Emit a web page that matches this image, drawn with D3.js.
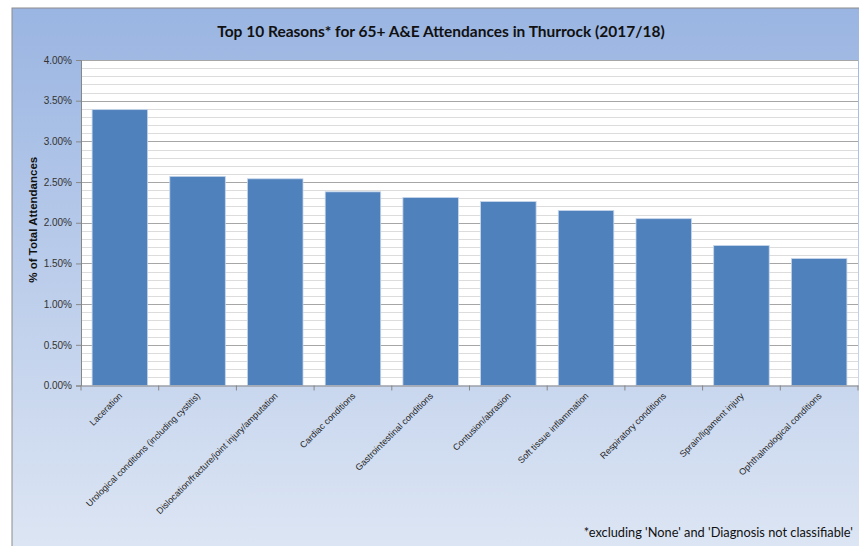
<!DOCTYPE html>
<html><head><meta charset="utf-8">
<script src="https://cdn.jsdelivr.net/npm/d3@7"></script>
<style>body{margin:0;background:#fff}svg{display:block}</style>
</head><body>
<svg id="c" width="859" height="546"></svg>
<script>
const categories = ["Laceration","Urological conditions (including cystitis)","Dislocation/fracture/joint injury/amputation","Cardiac conditions","Gastrointestinal conditions","Contusion/abrasion","Soft tissue inflammation","Respiratory conditions","Sprain/ligament injury","Ophthalmological conditions"];
const values = [3.39, 2.57, 2.54, 2.38, 2.31, 2.26, 2.15, 2.05, 1.72, 1.56];
const yTicks = [0,0.5,1,1.5,2,2.5,3,3.5,4];
const minorTicks = d3.range(0, 41).map(i => i/10);
const title = "Top 10 Reasons* for 65+ A&E Attendances in Thurrock (2017/18)";
const yTitle = "% of Total Attendances";
const footnote = "*excluding 'None' and 'Diagnosis not classifiable'";

const svg = d3.select("#c");
const defs = svg.append("defs");
const g = defs.append("linearGradient").attr("id","bg").attr("x1",0).attr("y1",0).attr("x2",0).attr("y2",1);
g.append("stop").attr("offset","0%").attr("stop-color","#9ab5e2");
g.append("stop").attr("offset","100%").attr("stop-color","#dfe7f4");

svg.append("rect").attr("x",12).attr("y",8).attr("width",859).attr("height",560)
  .attr("fill","url(#bg)").attr("stroke","#8c8c8c").attr("stroke-width",1);

const m = {left:81, right:858, top:60, bottom:385.5};
const x = d3.scaleBand().domain(categories).range([m.left, m.right]).paddingInner(0.2857).paddingOuter(0.1429);
const y = d3.scaleLinear().domain([0,4]).range([m.bottom, m.top]);

svg.append("rect").attr("x",m.left).attr("y",m.top).attr("width",m.right-m.left).attr("height",m.bottom-m.top).attr("fill","#fff");

svg.append("g").selectAll("line").data(minorTicks.filter(d => Math.round(d*10)%5 !== 0)).join("line")
  .attr("x1",m.left).attr("x2",m.right).attr("y1",d=>Math.round(y(d))+0.5).attr("y2",d=>Math.round(y(d))+0.5)
  .attr("stroke","#dcdcdc").attr("stroke-width",1);
svg.append("g").selectAll("line").data(yTicks.filter(d=>d>0)).join("line")
  .attr("x1",m.left).attr("x2",m.right).attr("y1",d=>Math.round(y(d))+0.5).attr("y2",d=>Math.round(y(d))+0.5)
  .attr("stroke","#a6a6a6").attr("stroke-width",1);

svg.append("g").selectAll("rect").data(values).join("rect")
  .attr("x",(d,i)=>x(categories[i])).attr("width",x.bandwidth())
  .attr("y",d=>y(d)).attr("height",d=>y(0)-y(d))
  .attr("fill","#4f81bd").attr("stroke","#c6d5ea").attr("stroke-width",0.8);

// y axis
const yAxis = svg.append("g").attr("transform",`translate(${m.left},0)`)
  .call(d3.axisLeft(y).tickValues(yTicks).tickFormat(d=>d.toFixed(2)+"%").tickSize(5).tickPadding(4));
yAxis.select(".domain").attr("stroke","#868686");
yAxis.selectAll(".tick line").attr("stroke","#868686");
yAxis.selectAll("text").attr("font-family","Liberation Sans, Arial, sans-serif").attr("font-size","10px").attr("fill","#333");

// x axis
const xAxis = svg.append("g").attr("transform",`translate(0,${m.bottom})`)
  .call(d3.axisBottom(x).tickSize(0).tickFormat(""));
xAxis.select(".domain").attr("stroke","#868686");
const step = x.step();
svg.append("g").selectAll("line").data(d3.range(0, categories.length+1)).join("line")
  .attr("x1",i=>m.left + i*step).attr("x2",i=>m.left + i*step)
  .attr("y1",m.bottom).attr("y2",m.bottom+5).attr("stroke","#868686");

svg.append("g").selectAll("text").data(categories).join("text")
  .attr("transform",d=>`translate(${x(d)+x.bandwidth()/2+3},${m.bottom+11}) rotate(-45)`)
  .attr("text-anchor","end").attr("font-family","Liberation Sans, Arial, sans-serif")
  .attr("font-size","9px").attr("fill","#262626").text(d=>d);

svg.append("text").attr("x",441).attr("y",37).attr("text-anchor","middle")
  .attr("font-family","Lato, sans-serif").attr("font-weight","bold").attr("font-size","15.5px").attr("fill","#111")
  .text(title);

svg.append("text").attr("transform",`translate(37,${(m.top+m.bottom)/2-3}) rotate(-90)`)
  .attr("text-anchor","middle").attr("font-family","Liberation Sans, Arial, sans-serif")
  .attr("font-weight","bold").attr("font-size","11.5px").attr("fill","#111").text(yTitle);

svg.append("text").attr("x",853).attr("y",537).attr("text-anchor","end")
  .attr("font-family","Lato, sans-serif").attr("font-size","12.8px").attr("fill","#111").text(footnote);
</script>
</body></html>
